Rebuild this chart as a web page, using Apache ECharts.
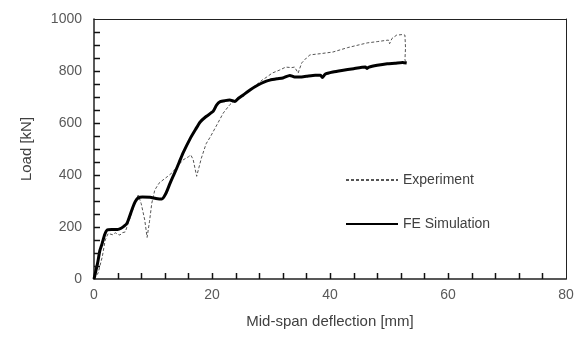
<!DOCTYPE html>
<html>
<head>
<meta charset="utf-8">
<script src="https://cdn.jsdelivr.net/npm/echarts@6/dist/echarts.min.js"></script>
<style>
html,body{margin:0;padding:0;background:#fff;}
#chart{width:579px;height:340px;}
</style>
</head>
<body>
<div id="chart"></div>
<script>
// Experiment: [deflection mm, load kN]
const experiment = [[0,0],[0.7,23],[1.0,50],[1.4,85],[1.9,150],[2.4,175],[2.7,177],[3.2,170],[3.6,178],[4.0,172],[4.4,169],[4.8,178],[5.3,181],[5.8,215],[6.4,254],[7.0,300],[7.5,323],[8.0,290],[8.6,227],[9.0,160],[9.4,220],[9.8,292],[10.3,342],[11.0,368],[11.7,381],[12.5,395],[13.2,408],[14.2,435],[15.1,458],[16.0,470],[16.4,477],[16.8,460],[17.4,395],[17.8,430],[18.2,465],[19.0,520],[19.7,546],[21.0,600],[21.9,638],[23.0,670],[24.0,690],[25.3,712],[26.5,730],[27.6,748],[28.5,765],[29.3,777],[30.2,792],[31.5,804],[32.5,815],[33.5,813],[34.0,815],[34.6,792],[35.2,831],[36.0,850],[36.6,862],[38.5,867],[40.5,873],[43.0,890],[46.3,908],[48.0,913],[49.9,919],[50.1,905],[50.5,925],[51.3,938],[52.2,940],[52.7,938],[52.8,890],[52.7,842],[53.0,831]];
// FE Simulation: [deflection mm, load kN]
const feSimulation = [[0,0],[0.6,60],[1.0,110],[1.4,138],[1.8,170],[2.2,188],[3.0,190],[4.0,190],[4.6,195],[5.2,205],[5.6,215],[6.1,245],[6.6,277],[7.0,298],[7.5,312],[8.2,315],[9.5,314],[10.5,310],[11.5,308],[12.2,330],[12.9,369],[13.4,395],[14.0,425],[14.6,458],[15.1,485],[16.3,540],[17.2,575],[18.0,604],[19.0,625],[20.2,645],[20.8,670],[21.4,682],[22.2,686],[23.0,688],[23.9,683],[24.5,695],[25.3,708],[26.5,728],[27.8,746],[28.8,757],[29.8,765],[31.0,770],[32.0,773],[33.2,783],[34.0,777],[34.9,777],[36.0,780],[37.5,784],[38.4,784],[38.7,775],[39.2,788],[40.5,796],[42.0,802],[44.0,809],[46.0,815],[46.3,810],[46.6,815],[48.0,822],[49.7,828],[51.0,830],[52.3,833],[53.0,831]];
const seriesNames = ['Experiment','FE Simulation'];
const xAxisName = 'Mid-span deflection [mm]';
const yAxisName = 'Load [kN]';
// tick mark positions (major + minor)
const xTickValues = [4,8,12,16,20,24,28,32,36,40,44,48,52,56,60,64,68,72,76];
const yTickValues = [50,100,150,200,250,300,350,400,450,500,550,600,650,700,750,800,850,900,950];

const chart = echarts.init(document.getElementById('chart'));
const font = 'Liberation Sans, Arial, sans-serif';
const noSplit = {show:true,lineStyle:{color:'rgba(0,0,0,0)'}};
const frameAxis = {show:true,axisLine:{show:true,onZero:false,lineStyle:{color:'#222',width:1}},axisTick:{show:false},axisLabel:{show:false},splitLine:{show:false}};
function tickRender(dir){
  return function(params, api){
    const p = api.coord([api.value(0), api.value(1)]);
    const x1 = Math.round(p[0]) + (dir === 'x' ? 0.5 : 0);
    const y1 = Math.round(p[1]) + (dir === 'x' ? 0 : 0.5);
    const x2 = dir === 'x' ? x1 : x1 + 6;
    const y2 = dir === 'x' ? y1 - 6 : y1;
    return {type:'line', shape:{x1:x1, y1:y1, x2:x2, y2:y2},
            style:{stroke:'#111', lineWidth:1.5}, silent:true};
  };
}
chart.setOption({
  animation:false,
  backgroundColor:'#fff',
  grid:{left:94,right:13,top:19,bottom:61},
  legend:{
    show:true, orient:'vertical', left:340, top:168, itemWidth:52, itemHeight:10, itemGap:30,
    textStyle:{fontFamily:font,fontSize:14,color:'#404040'},
    itemStyle:{opacity:0},
    data:seriesNames
  },
  xAxis:[{
    type:'value', min:0, max:80, interval:20, position:'bottom',
    name:xAxisName, nameLocation:'middle', nameGap:35,
    nameTextStyle:{fontFamily:font,fontSize:15,color:'#404040'},
    axisLine:{show:true,lineStyle:{color:'#222',width:1.5}},
    axisTick:{show:false},
    axisLabel:{fontFamily:font,fontSize:14,color:'#595959',margin:9},
    splitLine:noSplit
  }, Object.assign({type:'value',min:0,max:80,interval:20,position:'top'}, frameAxis)],
  yAxis:[{
    type:'value', min:0, max:1000, interval:200, position:'left',
    name:yAxisName, nameLocation:'middle', nameGap:60,
    nameTextStyle:{fontFamily:font,fontSize:15,color:'#404040'},
    axisLine:{show:true,lineStyle:{color:'#222',width:1.5}},
    axisTick:{show:false},
    axisLabel:{fontFamily:font,fontSize:14,color:'#595959',margin:12,formatter:v=>String(v)},
    splitLine:noSplit
  }, Object.assign({type:'value',min:0,max:1000,interval:200,position:'right'}, frameAxis)],
  series:[
    {name:'xticks',type:'custom',clip:false,silent:true,z:4,renderItem:tickRender('x'),
     data:xTickValues.map(v=>[v,0])},
    {name:'yticks',type:'custom',clip:false,silent:true,z:4,renderItem:tickRender('y'),
     data:yTickValues.map(v=>[0,v])},
    {name:seriesNames[0],type:'line',data:experiment,showSymbol:false,symbol:'none',
     lineStyle:{color:'#555',width:1,type:[3,2]},itemStyle:{color:'#555'},z:2},
    {name:seriesNames[1],type:'line',data:feSimulation,showSymbol:false,symbol:'none',smooth:0.2,
     lineStyle:{color:'#000',width:3},itemStyle:{color:'#000'},z:3}
  ]
});
</script>
</body>
</html>
